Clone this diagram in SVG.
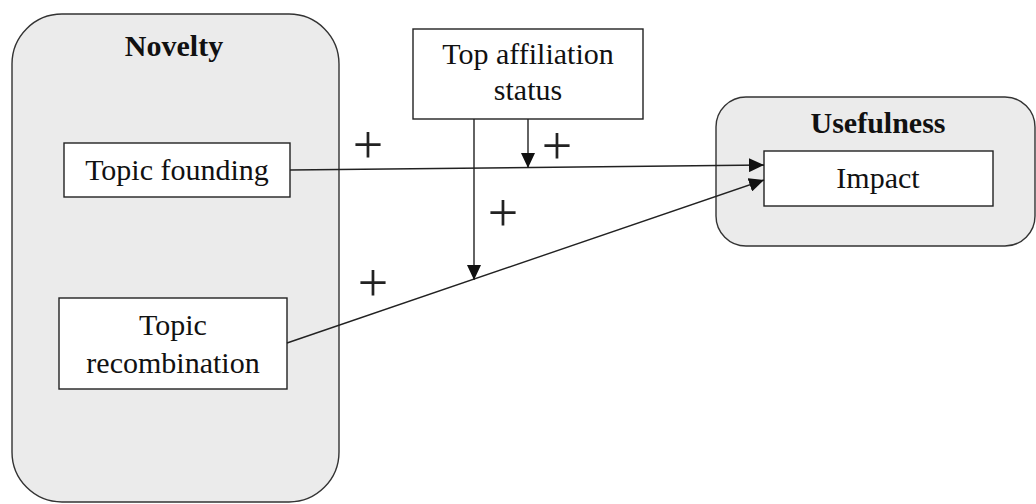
<svg xmlns="http://www.w3.org/2000/svg" width="1036" height="504" viewBox="0 0 1036 504">
<style>
.cont{fill:#ebebeb;stroke:#333;stroke-width:1.4}
.box{fill:#fff;stroke:#222;stroke-width:1.4}
.t{font-family:"Liberation Serif","Times New Roman",serif;font-size:30px;fill:#111;text-anchor:middle}
.b{font-weight:bold}
.plus{font-family:"Liberation Serif","Times New Roman",serif;font-size:54px;fill:#222;text-anchor:middle}
.c{stroke:#222;stroke-width:1.4;fill:none;marker-end:url(#ah)}
</style>
<defs>
<marker id="ah" markerUnits="userSpaceOnUse" markerWidth="16" markerHeight="14" refX="15" refY="7" orient="auto">
<path d="M0,0 L15,7 L0,14 Z" fill="#111"/>
</marker>
</defs>
<g id="novelty">
<rect class="cont" x="12" y="14" width="327" height="488" rx="50" ry="50"/>
<text class="t b" x="174" y="56">Novelty</text>
</g>
<g id="usefulness">
<rect class="cont" x="716" y="97" width="319" height="149" rx="30" ry="30"/>
<text class="t b" x="878" y="133">Usefulness</text>
</g>
<g id="topic-founding">
<rect class="box" x="64" y="143" width="226" height="54"/>
<text class="t" x="177" y="180">Topic founding</text>
</g>
<g id="topic-recombination">
<rect class="box" x="59" y="298" width="228" height="91"/>
<text class="t" x="173" y="335">Topic</text>
<text class="t" x="173" y="373">recombination</text>
</g>
<g id="top-affiliation">
<rect class="box" x="413" y="29" width="230" height="90"/>
<text class="t" x="528" y="64">Top affiliation</text>
<text class="t" x="528" y="100">status</text>
</g>
<g id="impact">
<rect class="box" x="764" y="151" width="229" height="55"/>
<text class="t" x="878" y="188">Impact</text>
</g>
<g id="connectors">
<line class="c" x1="290" y1="170" x2="764" y2="165"/>
<line class="c" x1="287" y1="343" x2="764" y2="180"/>
<line class="c" x1="528" y1="119" x2="528" y2="168"/>
<line class="c" x1="474" y1="119" x2="474" y2="280"/>
<text class="plus" x="368" y="163">+</text>
<text class="plus" x="557" y="164">+</text>
<text class="plus" x="503" y="231">+</text>
<text class="plus" x="373" y="301">+</text>
</g>
</svg>
